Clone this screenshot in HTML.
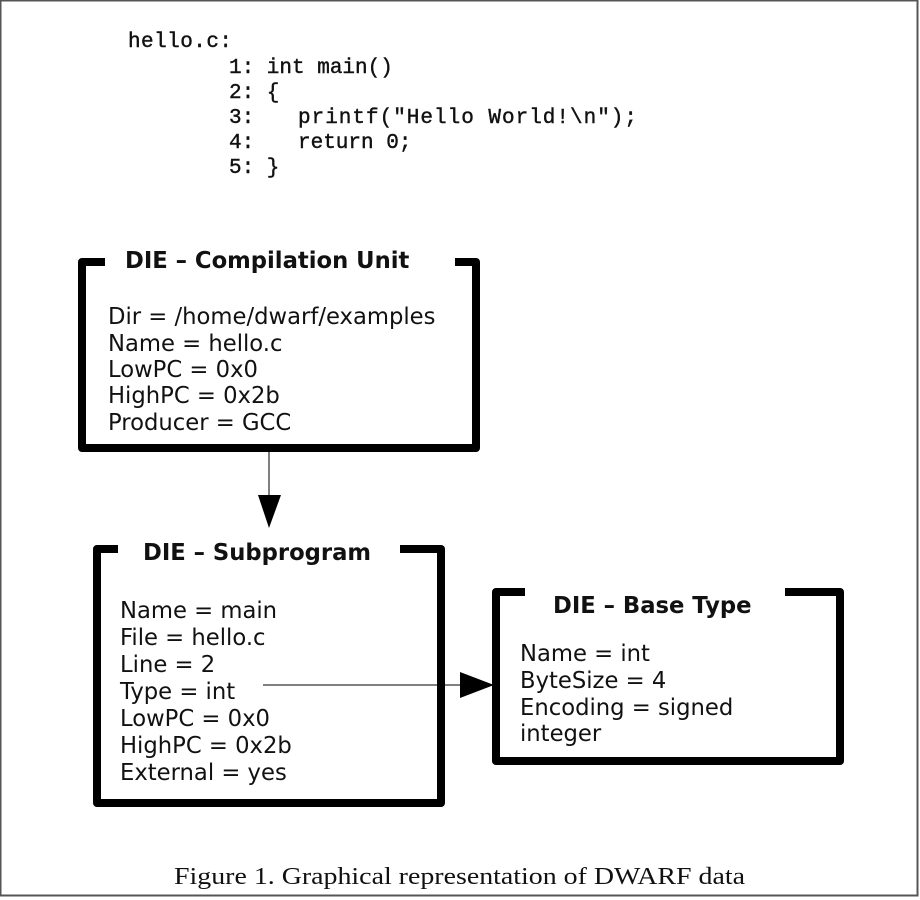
<!DOCTYPE html>
<html><head><meta charset="utf-8"><style>
html,body{margin:0;padding:0;background:#fff;}
svg{display:block;}
.m{font-family:"Liberation Mono",monospace;font-size:21px;fill:#111;stroke:#111;stroke-width:0.4;}
.t{font-family:"DejaVu Sans",sans-serif;font-weight:bold;font-size:22.7px;fill:#111;}
.b{font-family:"DejaVu Sans",sans-serif;font-size:22.7px;fill:#111;}
.c{font-family:"Liberation Serif",serif;font-size:24px;fill:#111;}
</style></head><body>
<svg width="920" height="900" viewBox="0 0 920 900" xmlns="http://www.w3.org/2000/svg">
<rect x="0.5" y="0.5" width="917" height="895" fill="none" stroke="#555" stroke-width="2"/>
<text class="m" x="128" y="47" textLength="104">hello.c:</text>
<text class="m" x="229" y="73">1: int main()</text>
<text class="m" x="229" y="98">2: {</text>
<text class="m" x="229" y="123">3:</text>
<text class="m" x="298" y="123" textLength="339">printf("Hello World!\n");</text>
<text class="m" x="229" y="148">4:</text>
<text class="m" x="298" y="148">return 0;</text>
<text class="m" x="229" y="173">5: }</text>

<g fill="none" stroke="#000" stroke-width="8" stroke-linejoin="round">
<path d="M105 262 H82 V448 H476 V262 H455"/>
<path d="M118 549 H97 V803 H441 V549 H400"/>
<path d="M525 592 H496 V761 H840 V592 H785"/>
</g>
<text class="t" x="125" y="268">DIE – Compilation Unit</text>
<g class="b">
<text x="108" y="324">Dir = /home/dwarf/examples</text>
<text x="108" y="351">Name = hello.c</text>
<text x="108" y="377">LowPC = 0x0</text>
<text x="108" y="403">HighPC = 0x2b</text>
<text x="108" y="430">Producer = GCC</text>
</g>
<line x1="269" y1="448" x2="269" y2="496" stroke="#000" stroke-width="1"/>
<polygon points="258,495 281,495 269,528" fill="#000"/>

<text class="t" x="143" y="560">DIE – Subprogram</text>
<g class="b">
<text x="120" y="618">Name = main</text>
<text x="120" y="645">File = hello.c</text>
<text x="120" y="672">Line = 2</text>
<text x="120" y="699">Type = int</text>
<text x="120" y="726">LowPC = 0x0</text>
<text x="120" y="753">HighPC = 0x2b</text>
<text x="120" y="780">External = yes</text>
</g>
<line x1="263" y1="685" x2="462" y2="685" stroke="#000" stroke-width="1"/>
<polygon points="460,672 460,698 494,685" fill="#000"/>

<text class="t" x="553" y="613">DIE – Base Type</text>
<g class="b">
<text x="520" y="661">Name = int</text>
<text x="520" y="688">ByteSize = 4</text>
<text x="520" y="715">Encoding = signed</text>
<text x="520" y="741">integer</text>
</g>

<text class="c" x="174" y="884" textLength="571" lengthAdjust="spacingAndGlyphs">Figure 1.  Graphical representation of DWARF data</text>
</svg>
</body></html>
